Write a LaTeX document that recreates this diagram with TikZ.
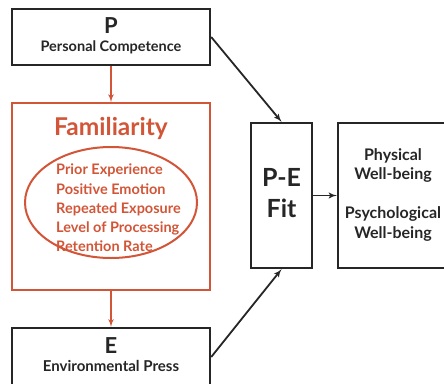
\documentclass[tikz,border=0pt]{standalone}
\usepackage{fontspec}
\setmainfont{Lato}
\usepackage{tikz}
\usetikzlibrary{arrows,positioning,shapes.geometric}

\definecolor{famred}{RGB}{210,85,55}
\definecolor{boxgray}{RGB}{38,38,38}

\begin{document}
\begin{tikzpicture}[
    x=1pt, y=-1pt,
    >=latex',
    font=\bfseries,
    block/.style={
		rectangle,
		draw=boxgray,
		line width=2.4pt,
		text=boxgray,
		text centered,
		inner sep=0pt,
		minimum width=198pt,
		minimum height=56pt
	},
    famblock/.style={
		rectangle,
		draw=famred,
		line width=2pt,
		minimum width=198pt,
		minimum height=187pt
	},
    ring/.style={
		ellipse,
		draw=famred,
		line width=2pt,
		inner sep=0pt,
		minimum width=172pt,
		minimum height=111pt
	},
    famtext/.style={
		text=famred,
		inner sep=0pt
	},
    link/.style={
		draw=boxgray,
		line width=1.8pt
	},
    famlink/.style={
		draw=famred,
		line width=1.6pt
	}
  ]
  \useasboundingbox (0,0) rectangle (444,383);
    % We start by placing the blocks

  \node [block] (person) at (111,37)
 {%
 \fontsize{14.5}{18}\selectfont
 \begin{tabular}{c}
  {\fontsize{22}{22}\selectfont P}\\
  Personal Competence
 \end{tabular}
 };

  \node [famblock] (famil) at (111,196.5) {};
  \node [famtext, font=\bfseries\fontsize{24.5}{24.5}\selectfont, below=15.5pt of famil.north] (famtitle) {Familiarity};
  \node [ring] (traits) at (111,202.5) {};
  \node [famtext, right=32pt of traits.west, yshift=-7pt] (traitlist)
 {%
 \fontsize{14.5}{19.3}\selectfont
 \begin{tabular}{@{}l@{}}
  Prior Experience\\
  Positive Emotion\\
  Repeated Exposure\\
  Level of Processing\\
  Retention Rate
 \end{tabular}
 };

  \node [block, minimum height=58pt] (press) at (111,357)
 {%
 \fontsize{15}{18}\selectfont
 \begin{tabular}{c}
  {\fontsize{22}{22}\selectfont E}\\
  Environmental Press
 \end{tabular}
 };

  \node [block, minimum width=61pt, minimum height=145pt] (fit) at (281.5,195.5)
 {%
 \fontsize{25}{31}\selectfont
 \begin{tabular}{c}
  P-E\\
  Fit
 \end{tabular}
 };

  \node [block, minimum width=110pt, minimum height=145pt] (wellbeing) at (393,195.5)
 {%
 \fontsize{16}{19.5}\selectfont
 \begin{tabular}{c}
  Physical\\
  Well-being\\
  \\
  Psychological\\
  Well-being
 \end{tabular}
 };

 \draw [famlink,->] (person) -- (famil);
 \draw [famlink,->] (famil) -- (press);
 \draw [link,->] (person.east) -- (fit.north);
 \draw [link,->] (press.east) -- (fit.south);
 \draw [link,->] (fit) -- (wellbeing);

\end{tikzpicture}
\end{document}
